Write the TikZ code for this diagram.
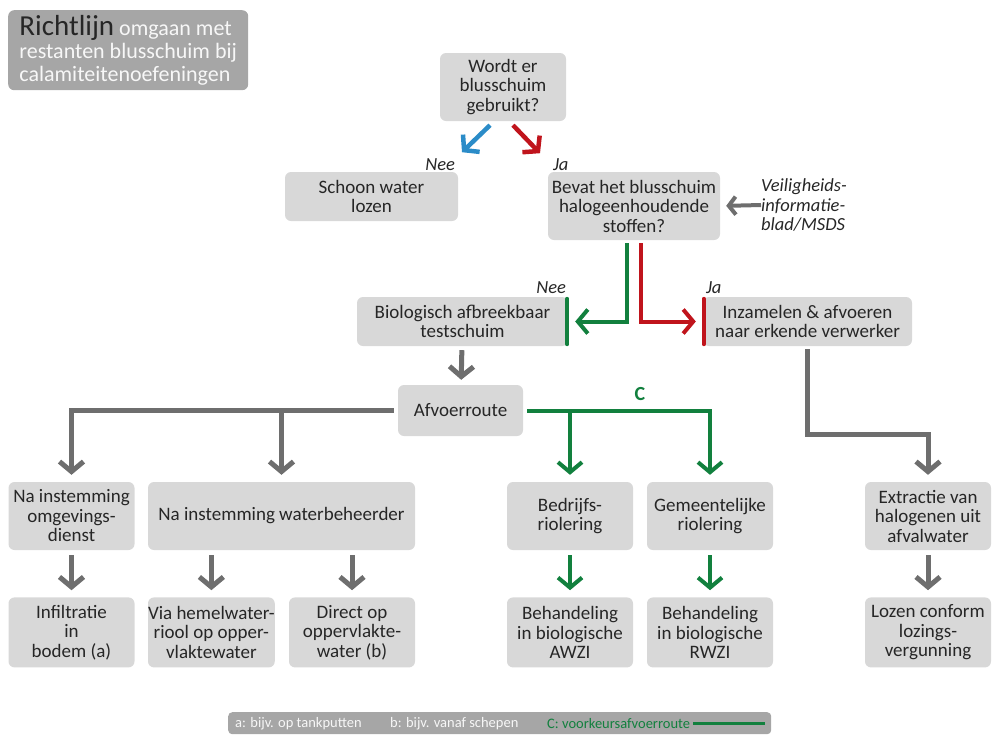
\documentclass[tikz,border=0pt]{standalone}
\usepackage{fontspec}
\setmainfont{Carlito}
\usepackage{xcolor}
\usetikzlibrary{positioning}
\usetikzlibrary{arrows.meta,calc}
\definecolor{boxgrey}{HTML}{D8D8D8}
\definecolor{arrgrey}{HTML}{6E6E6E}
\definecolor{titlegrey}{HTML}{A6A6A6}
\definecolor{routegreen}{HTML}{12803E}
\definecolor{jared}{HTML}{C0141C}
\definecolor{neeblue}{HTML}{2B8CC8}
\definecolor{txt}{HTML}{262626}
\begin{document}
\begin{tikzpicture}[
x=1pt, y=-1pt,
>={Straight Barb[length=10pt,width=24pt]},
box/.style={rectangle, rounded corners=6pt, fill=boxgrey, text=txt, align=center, inner sep=0pt, font=\fontsize{19}{19.5}\selectfont},
cell/.style={box, minimum width=126pt, minimum height=68pt},
tall/.style={box, minimum width=126pt, minimum height=70pt},
wide/.style={box, minimum height=49pt},
lbl/.style={inner sep=0pt, text=txt, font=\fontsize{18.5}{19.5}\selectfont\itshape},
legtxt/.style={inner sep=0pt, anchor=west, text=white!94!gray, font=\fontsize{14.5}{15}\selectfont},
greyflow/.style={draw=arrgrey, line width=5pt},
greenflow/.style={draw=routegreen, line width=4pt},
redflow/.style={draw=jared, line width=4pt},
blueflow/.style={draw=neeblue, line width=4.5pt}]
\useasboundingbox (0,0) rectangle (992,737);
\node [anchor=north west, fill=titlegrey, rounded corners=6pt, minimum width=240pt, minimum height=80pt, align=left, inner sep=0pt, text=white!94!gray, font=\fontsize{22}{23}\selectfont] (title) at (8,10) {{\fontsize{29}{23}\selectfont\color{txt}Richtlijn} omgaan met\\restanten blusschuim bij\\calamiteitenoefeningen};
\node [box, minimum width=126pt, minimum height=68pt] (q1) at (503,87) {Wordt er\\blusschuim\\gebruikt?};
\node [wide, minimum width=173pt] (nee1) at (371.5,196.5) {Schoon water\\lozen};
\node [box, minimum width=172pt, minimum height=68pt] (q2) at (634,206) {Bevat het blusschuim\\halogeenhoudende\\stoffen?};
\node [lbl, align=left, anchor=west] (msds) at (761,205) {Veiligheids-\\informatie-\\blad/MSDS};
\node [lbl] (n1) [above left=1pt and 3pt of nee1.north east] {Nee};
\node [lbl] (j1) [above right=1pt and 5pt of q2.north west] {Ja};
\coordinate (b0) at ([xshift=-13pt,yshift=-4pt]q1.south);
\coordinate (b1) at ([xshift=-41pt,yshift=-31pt]q1.south);
\coordinate (r0) at ([xshift=10pt,yshift=-4pt]q1.south);
\coordinate (r1) at ([xshift=37pt,yshift=-32pt]q1.south);
\draw [blueflow, ->] (b0) -- (b1);
\draw [redflow, line width=4.5pt, ->] (r0) -- (r1);
\draw [greyflow, line width=4pt, -{Straight Barb[length=7pt,width=18pt]}, shorten >=6pt] (msds.west) -- (q2.east);
\node [wide, minimum width=211pt] (bio) at (462.5,321.5) {Biologisch afbreekbaar\\testschuim};
\node [wide, minimum width=209pt] (inz) at (807.5,321.5) {Inzamelen \& afvoeren\\naar erkende verwerker};
\node [lbl] (n2) [above left=3pt and 2pt of bio.north east] {Nee};
\node [lbl] (j2) [above right=3pt and 3pt of inz.north west] {Ja};
\draw [greenflow, ->, shorten <=3pt, shorten >=7pt] ([xshift=-7pt]q2.south) |- (bio.east);
\draw [redflow, ->, shorten <=3pt, shorten >=7pt] ([xshift=7pt]q2.south) |- (inz.west);
\draw [routegreen, line width=4pt, line cap=round] ([xshift=-1pt,yshift=-2pt]bio.north east) -- ([xshift=-1pt,yshift=2pt]bio.south east);
\draw [jared, line width=4pt, line cap=round] ([xshift=1pt,yshift=-2pt]inz.north west) -- ([xshift=1pt,yshift=2pt]inz.south west);
\node [box, minimum width=125pt, minimum height=51pt] (afv) at (460.5,410.5) {Afvoerroute} edge [<-, greyflow, shorten <=5pt, shorten >=4pt] (bio);
\node [cell] (omg) at (71.5,516) {Na instemming\\omgevings-\\dienst};
\node [box, minimum width=267pt, minimum height=68pt] (wb) at (281.5,516) {Na instemming waterbeheerder};
\node [cell] (bed) at (570,516) {Bedrijfs-\\riolering};
\node [cell] (gem) at (710,516) {Gemeentelijke\\riolering};
\node [cell] (ext) at (928,516) {Extractie van\\halogenen uit\\afvalwater};
\draw [greyflow, ->, shorten <=4pt, shorten >=7pt] (afv.west) -| (omg.north);
\draw [greyflow, ->, shorten >=7pt] (wb.north |- afv.west) -- (wb.north);
\draw [greenflow, ->, shorten <=4pt, shorten >=7pt] (afv.east) -| (gem.north);
\draw [greenflow, ->, shorten >=7pt] (bed.north |- afv.east) -- (bed.north);
\node [inner sep=0pt, text=routegreen, font=\fontsize{20}{20}\selectfont\bfseries] (c) at (640,394) {C};
\draw [greyflow, ->, shorten <=3pt, shorten >=7pt] (inz.south) -- ++(0,88) -| (ext.north);
\node [tall] (inf) [below=47pt of omg] {Infiltratie\\in\\bodem (a)} edge [<-, greyflow, shorten <=7pt, shorten >=5pt] (omg);
\node [tall] (via) [below right=47pt and 0pt of wb.south west] {Via hemelwater-\\riool op opper-\\vlaktewater};
\node [tall] (dir) [below left=47pt and 0pt of wb.south east] {Direct op\\oppervlakte-\\water (b)};
\draw [greyflow, ->, shorten <=5pt, shorten >=7pt] (via.north |- wb.south) -- (via.north);
\draw [greyflow, ->, shorten <=5pt, shorten >=7pt] (dir.north |- wb.south) -- (dir.north);
\node [tall] (awzi) [below=47pt of bed] {Behandeling\\in biologische\\AWZI} edge [<-, greenflow, shorten <=7pt, shorten >=5pt] (bed);
\node [tall] (rwzi) [below=47pt of gem] {Behandeling\\in biologische\\RWZI} edge [<-, greenflow, shorten <=7pt, shorten >=5pt] (gem);
\node [tall] (loz) [below=47pt of ext] {Lozen conform\\lozings-\\vergunning} edge [<-, greyflow, shorten <=7pt, shorten >=5pt] (ext);
\node [anchor=north west, fill=titlegrey, rounded corners=4pt, minimum width=543pt, minimum height=22pt, inner sep=0pt] (leg) at (228,712) {};
\node [legtxt] (la) at ([xshift=7pt]leg.west) {a: bijv. op tankputten};
\node [legtxt] (lb) at ([xshift=162pt]leg.west) {b: bijv. vanaf schepen};
\node [legtxt, text=routegreen] (lc) at ([xshift=319pt]leg.west) {C: voorkeursafvoerroute};
\draw [routegreen, line width=3pt] ([xshift=3pt]lc.east) -- ([xshift=-6pt]leg.east);
\end{tikzpicture}
\end{document}
